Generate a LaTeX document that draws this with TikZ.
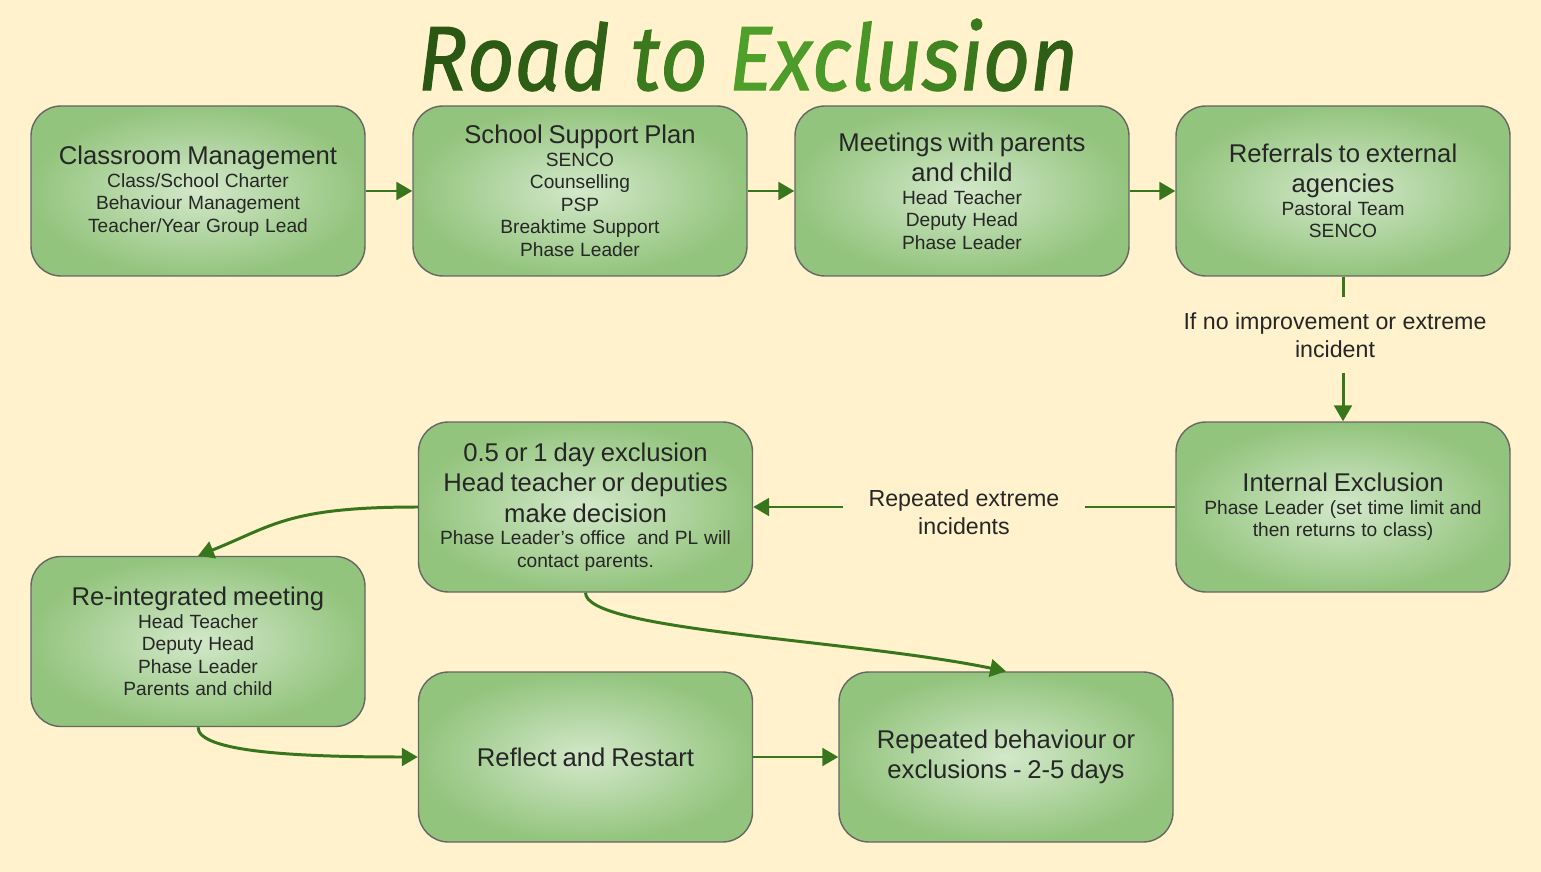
\documentclass[tikz,border=0pt]{standalone}
\usepackage{fontspec}
\setmainfont{Liberation Sans}
\newfontfamily\titlefont[FakeBold=1.3]{Fira Sans}
\usetikzlibrary{positioning,arrows.meta}

\definecolor{bg}{HTML}{FFF2CC}
\definecolor{boxin}{HTML}{D3E8CA}
\definecolor{boxout}{HTML}{93C47D}
\definecolor{arrowgreen}{HTML}{38761D}
\definecolor{dkgreen}{HTML}{2A5714}
\definecolor{ltgreen}{HTML}{4FA02A}

\newcommand{\boxhead}{\fontsize{14.6}{17.2}\selectfont}
\newcommand{\boxsub}{\fontsize{10.9}{12.8}\selectfont}
\newcommand{\tletter}[2]{\textcolor{ltgreen!#1!dkgreen}{#2}}

\begin{document}
\begin{tikzpicture}[node distance=7.64cm,on grid,
    stage/.style={draw=black!60,line width=0.8pt,rounded corners=0.6cm,
      minimum width=6.68cm,minimum height=3.4cm,text width=6.4cm,
      align=center,inner sep=0pt,inner color=boxin,outer color=boxout,
      text=black!85},
    note/.style={align=center,font=\fontsize{13.2}{15.8}\selectfont,text=black!85,
      inner xsep=0.5cm,inner ysep=0.3cm},
    link/.style={arrowgreen,line width=1.7pt,-{Triangle[length=9pt,width=10pt]}}]
    % background and frame
    \fill[bg] (0,0) rectangle (30.82,-17.44);
    \useasboundingbox (0,0) rectangle (30.82,-17.44);
    % title
    \node[font=\titlefont\mdseries\itshape\fontsize{52}{58}\selectfont,
      xscale=0.9,transform shape] (title) at (14.96,-1.1)
      {\tletter{0}{R}\tletter{5}{o}\tletter{10}{a}\tletter{15}{d}
       \tletter{45}{t}\tletter{55}{o}
       \tletter{100}{E}\tletter{95}{x}\tletter{90}{c}\tletter{85}{l}\tletter{75}{u}\tletter{60}{s}\tletter{45}{i}\tletter{25}{o}\tletter{10}{n}};
    % first row
    \node[stage] (cm) at (3.96,-3.82)
      {{\boxhead Classroom Management\par}{\boxsub Class/School Charter\\Behaviour Management\\Teacher/Year Group Lead\par}};
    \node[stage] (ssp) [right=of cm]
      {{\boxhead School Support Plan\par}{\boxsub SENCO\\Counselling\\PSP\\Breaktime Support\\Phase Leader\par}};
    \node[stage] (meet) [right=of ssp]
      {{\boxhead Meetings with parents\\and child\par}{\boxsub Head Teacher\\Deputy Head\\Phase Leader\par}};
    \node[stage] (ref) [right=7.62cm of meet]
      {{\boxhead Referrals to external\\agencies\par}{\boxsub Pastoral Team\\SENCO\par}};
    % second row
    \node[stage] (int) [below=6.32cm of ref]
      {{\boxhead Internal Exclusion\par}{\boxsub Phase Leader (set time limit and\\then returns to class)\par}};
    \node[stage] (excl) [left=15.15cm of int]
      {{\boxhead 0.5 or 1 day exclusion\\Head teacher or deputies\\make decision\par}{\boxsub Phase Leader’s office~ and PL will\\contact parents.\par}};
    \node[stage] (reint) at (3.96,-12.83)
      {{\boxhead Re-integrated meeting\par}{\boxsub Head Teacher\\Deputy Head\\Phase Leader\\Parents and child\par}};
    \node[stage] (reflect) [below=5cm of excl]
      {{\boxhead Reflect and Restart\par}};
    \node[stage] (rep) [right=8.41cm of reflect]
      {{\boxhead Repeated behaviour or\\exclusions - 2-5 days\par}};
    % labels on the connectors
    \node[note] (ifno) [below=2.88cm of ref,xshift=-0.16cm]
      {If no improvement or extreme\\incident};
    \node[note] (again) [left=7.58cm of int,yshift=-0.1cm]
      {Repeated extreme\\incidents};
    % connectors
    \draw[link] (cm) -- (ssp);
    \draw[link] (ssp) -- (meet);
    \draw[link] (meet) -- (ref);
    \draw[link,-] (ref.south) -- (ref.south |- ifno.north);
    \draw[link] (int.north |- ifno.south) -- (int.north);
    \draw[link,-] (int.west) -- (int.west -| again.east);
    \draw[link] (excl.east -| again.west) -- (excl.east);
    \draw[link] (excl.west) .. controls +(-2.6,0) and +(1.5,0.6) .. (reint.north);
    \draw[link] (excl.south) .. controls +(0,-0.76) and +(-3.1,0.64) .. (rep.north);
    \draw[link] (reint.south) .. controls +(0,-0.5) and +(-2.4,0) .. (reflect.west);
    \draw[link] (reflect) -- (rep);
\end{tikzpicture}
\end{document}
